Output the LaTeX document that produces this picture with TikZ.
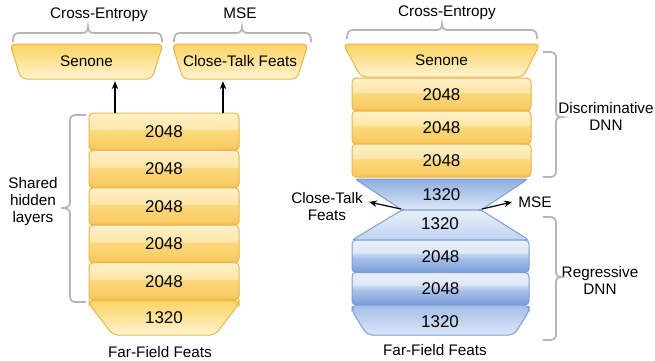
\documentclass[tikz,border=0pt]{standalone}
\usepackage{fontspec}
\setmainfont{Liberation Sans}
\usetikzlibrary{arrows.meta,calc}

% palette
\definecolor{ystroke}{HTML}{E6B54C}
\definecolor{ygA}{HTML}{F4C04C}
\definecolor{ygB}{HTML}{F9CD66}
\definecolor{ygC}{HTML}{FBD87C}
\definecolor{ygD}{HTML}{FDE6A8}
\definecolor{ygE}{HTML}{FEF0C8}
\definecolor{ytrapTop}{HTML}{FCD463}
\definecolor{ytrapBot}{HTML}{FFF3D0}
\definecolor{bstroke}{HTML}{7C9CD4}
\definecolor{bgA}{HTML}{7A9EDA}
\definecolor{bgB}{HTML}{A3BDE8}
\definecolor{bgC}{HTML}{C3D5F1}
\definecolor{bgD}{HTML}{DDE7F7}
\definecolor{bgE}{HTML}{E9F0FB}
\definecolor{bracegray}{HTML}{B5B5B5}

% glossy vertical fills for the layer boxes
\pgfdeclareverticalshading{yglass}{100bp}{color(0bp)=(ygA); color(25bp)=(ygA); color(31bp)=(ygB); color(52bp)=(ygC); color(53bp)=(ygD); color(75bp)=(ygE); color(100bp)=(ygE)}
\pgfdeclareverticalshading{bglass}{100bp}{color(0bp)=(bgA); color(25bp)=(bgA); color(45bp)=(bgB); color(54bp)=(bgC); color(55bp)=(bgD); color(75bp)=(bgE); color(100bp)=(bgE)}

\begin{document}
\begin{tikzpicture}[x=1pt,y=-1pt,
  lbl/.style={font=\fontsize{15.3}{17}\selectfont, align=center, inner sep=0pt},
  numtxt/.style={font=\fontsize{17}{19}\selectfont},
  ylayer/.style={rectangle, rounded corners=4pt, draw=ystroke, line width=1pt,
    shade, shading=yglass, inner sep=0pt, numtxt},
  blayer/.style={rectangle, rounded corners=4pt, draw=bstroke, line width=1pt,
    shade, shading=bglass, inner sep=0pt, numtxt},
  ghost/.style={rectangle, inner sep=0pt, numtxt},
  ytrap/.style={draw=ystroke, line width=1pt, rounded corners=5pt,
    top color=ytrapTop, bottom color=ytrapBot},
  brace/.style={draw=bracegray, line width=1.8pt},
  arr/.style={-{Stealth[length=8pt,width=6.5pt]}, line width=1.2pt}
]
\useasboundingbox (0,0) rectangle (655,360);

% ---------------- left network: shared hidden layers ----------------
\shadedraw[ytrap] (10,44) -- (163,44) -- (152,79) -- (21,79) -- cycle;
\shadedraw[ytrap] (172,44) -- (308,44) -- (297,79) -- (183,79) -- cycle;
\shadedraw[ytrap] (89,300) -- (239,300) -- (239,304) -- (215,335) -- (113,335) -- (89,304) -- cycle;

\node[ghost, lbl, minimum width=153pt, minimum height=35pt] (sen1) at (86.5,61.5) {Senone};
\node[ghost, lbl, minimum width=136pt, minimum height=35pt] (ctf1) at (240,61.5) {Close-Talk Feats};

\foreach \i/\yc in {1/131.7, 2/169.1, 3/206.5, 4/243.9, 5/281.3}
  \node[ylayer, minimum width=150pt, minimum height=37.4pt] (h\i) at (164,\yc) {2048};
\node[ghost] (in1) at (164,318) {1320};

\node[lbl] (ce1) at (99,15) {Cross-Entropy};
\node[lbl] (mse1) at (240,13) {MSE};
\node[lbl] (ff1) at (160,352) {Far-Field Feats};
\node[lbl] (shared) at (33,202) {Shared\\hidden\\layers};

\coordinate (a1) at (115,0);
\coordinate (a2) at (223,0);
\draw[arr, shorten >=2pt] (h1.north -| a1) -- (sen1.south -| a1);
\draw[arr, shorten >=2pt] (h1.north -| a2) -- (ctf1.south -| a2);

% braces
\draw[brace] (13,42) .. controls (13,35) and (15,33) .. (19,33) -- (82,33)
  .. controls (86,33) and (88,31) .. (88,27) .. controls (88,31) and (90,33) .. (94,33)
  -- (156,33) .. controls (160,33) and (162,35) .. (162,42);
\draw[brace] (174,42) .. controls (174,35) and (176,33) .. (180,33) -- (236,33)
  .. controls (240,33) and (242,31) .. (242,27) .. controls (242,31) and (244,33) .. (248,33)
  -- (305,33) .. controls (309,33) and (311,35) .. (311,42);
\draw[brace] (86,115) -- (76,115) .. controls (72,115) and (70,117) .. (70,121) -- (70,202)
  .. controls (70,206) and (68,208) .. (61,208) .. controls (68,208) and (70,210) .. (70,214)
  -- (70,296) .. controls (70,300) and (72,302) .. (76,302) -- (86,302);

% ---------------- right network: regressive + discriminative ----------------
\shadedraw[ytrap] (343,44) -- (540,44) -- (523,77) -- (361,77) -- cycle;
\node[ghost, lbl, minimum width=197pt, minimum height=33pt] (sen2) at (441.5,60.5) {Senone};

\foreach \i/\yc in {1/94.5, 2/127.5, 3/160.5}
  \node[ylayer, minimum width=179pt, minimum height=33pt] (d\i) at (441.5,\yc) {2048};

% bottleneck pair
\shadedraw[draw=bstroke, line width=1pt, rounded corners=3pt,
  top color=bgA!85!white, bottom color=bgD]
  (355,179) -- (528,179) -- (481,210) -- (402,210) -- cycle;
\shadedraw[draw=bstroke, line width=1pt, rounded corners=3pt,
  top color=bgE, bottom color=bgC!90!bgB]
  (402,210) -- (481,210) -- (529,240) -- (352,240) -- cycle;
\node[ghost, minimum width=173pt, minimum height=31pt] (bn1) at (441.5,194.5) {1320};
\node[ghost] (bn2) at (440,224) {1320};

\node[blayer, minimum width=177pt, minimum height=32.5pt] (e1) at (440.5,256.25) {2048};
\node[blayer, minimum width=177pt, minimum height=32.5pt] (e2) at (440.5,288.75) {2048};

\shadedraw[draw=bstroke, line width=1pt, rounded corners=5pt,
  top color=bgB, bottom color=bgD]
  (352,305) -- (529,305) -- (529,311) -- (514,335) -- (367,335) -- (352,311) -- cycle;
\node[ghost] (in2) at (440,322) {1320};

\node[lbl] (ce2) at (447,13) {Cross-Entropy};
\node[lbl] (ff2) at (435,350) {Far-Field Feats};
\node[lbl] (disc) at (606,116.5) {Discriminative\\DNN};
\node[lbl] (regr) at (600,280) {Regressive\\DNN};
\node[lbl] (ctf2) at (327,207) {Close-Talk\\Feats};
\node[lbl] (mse2) at (535,202) {MSE};

\coordinate (neckL) at (401,209);
\coordinate (neckR) at (482,209);
\coordinate (ctTip) at (369,202);
\coordinate (mseTip) at (512,202);
\draw[arr] (neckL) -- (ctTip);
\draw[arr] (neckR) -- (mseTip);

\draw[brace] (347,39) .. controls (347,32) and (349,30) .. (353,30) -- (436,30)
  .. controls (440,30) and (442,28) .. (442,24) .. controls (442,28) and (444,30) .. (448,30)
  -- (531,30) .. controls (535,30) and (537,32) .. (537,39);
\draw[brace] (543,52) -- (550,52) .. controls (554,52) and (556,54) .. (556,58) -- (556,111)
  .. controls (556,115) and (557,117) .. (562,117) .. controls (557,117) and (556,119) .. (556,123)
  -- (556,171) .. controls (556,175) and (554,177) .. (550,177) -- (543,177);
\draw[brace] (543,217) -- (550,217) .. controls (554,217) and (556,219) .. (556,223) -- (556,271)
  .. controls (556,275) and (557,277) .. (562,277) .. controls (557,277) and (556,279) .. (556,283)
  -- (556,334) .. controls (556,338) and (554,340) .. (550,340) -- (543,340);
\end{tikzpicture}
\end{document}
